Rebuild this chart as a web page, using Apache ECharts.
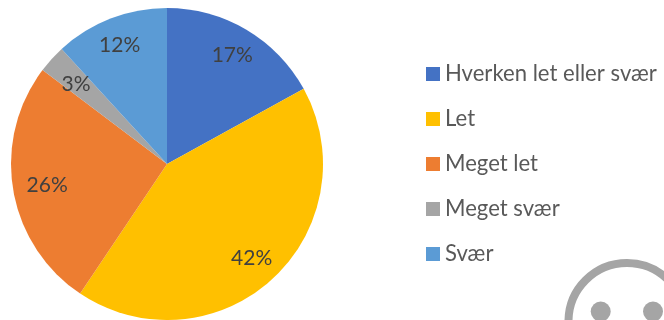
<!DOCTYPE html>
<html><head><meta charset="utf-8">
<style>html,body{margin:0;padding:0;background:#fff}#c{width:664px;height:320px}</style>
<script src="https://cdn.jsdelivr.net/npm/echarts@6/dist/echarts.min.js"></script>
</head><body><div id="c"></div>
<script>
const categories = ['Hverken let eller svær','Let','Meget let','Meget svær','Svær'];
const values = [17, 42.4, 25.9, 2.9, 11.8];
const colors = ['#4472C4','#FFC000','#ED7D31','#A5A5A5','#5B9BD5'];
const labelOffsets = [[24,-39],[30,34],[-40,8],[-31,-25],[-18,-43]];
const font = 'Lato';
const chart = echarts.init(document.getElementById('c'), null, {renderer:'canvas'});
chart.setOption({
  animation:false,
  backgroundColor:'#fff',
  color:colors,
  legend:{
    orient:'vertical', left:421, top:58, itemWidth:14, itemHeight:14, itemGap:23, icon:'rect',
    selectedMode:false,
    textStyle:{fontFamily:font, fontSize:22.1, color:'#595959', padding:[0,0,0,0], lineHeight:18, height:18}
  },
  series:[{
    type:'pie', center:[167,164], radius:[0,156], startAngle:90, clockwise:true,
    percentPrecision:0, silent:true,
    label:{position:'inside', formatter:'{d}%', fontFamily:font, fontSize:21, color:'#404040'},
    labelLine:{show:false},
    itemStyle:{borderWidth:0},
    data:categories.map((name,i)=>({name, value:values[i], label:{offset:labelOffsets[i]}}))
  }],
  graphic:[
    {type:'circle', shape:{cx:627,cy:321.5,r:58.5}, style:{fill:'none', stroke:'#A5A5A5', lineWidth:8}},
    {type:'circle', shape:{cx:600.7,cy:311.5,r:10}, style:{fill:'#A5A5A5'}},
    {type:'circle', shape:{cx:653,cy:311.5,r:10}, style:{fill:'#A5A5A5'}}
  ]
});
</script></body></html>
